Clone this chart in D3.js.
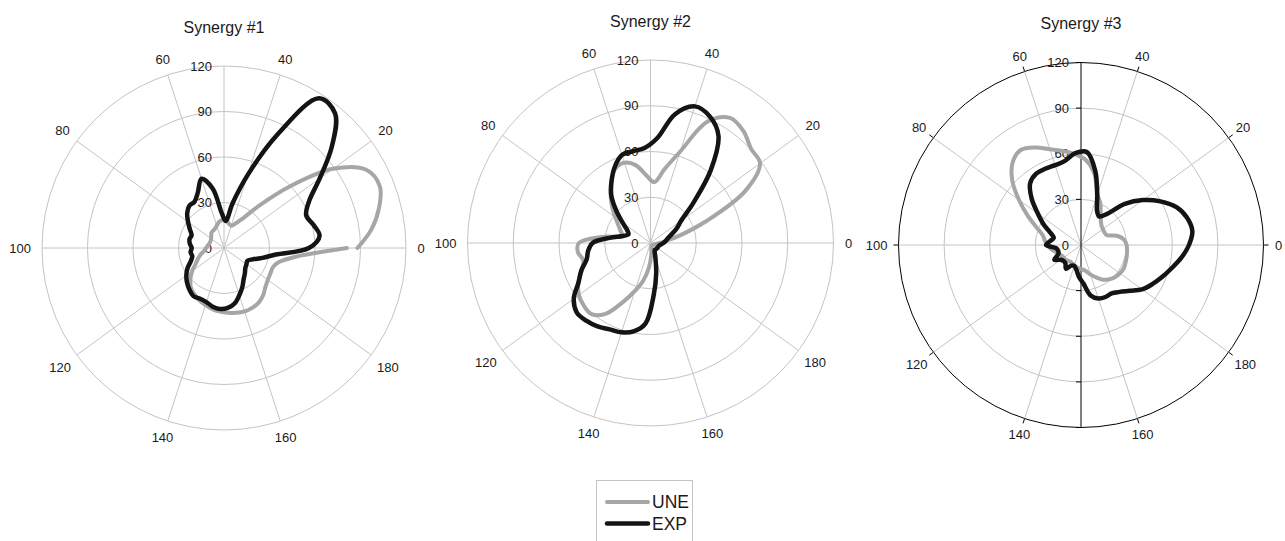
<!DOCTYPE html>
<html>
<head>
<meta charset="utf-8">
<script src="https://cdn.jsdelivr.net/npm/d3@7"></script>
<style>
  html, body { margin: 0; padding: 0; background: #fff; }
  svg { display: block; }
  text { font-family: "Liberation Sans", Arial, sans-serif; fill: #1a1a1a; }
</style>
</head>
<body>
<svg id="chart" width="1285" height="541"></svg>
<script>
// ---------------- data ----------------
const titles = ["Synergy #1", "Synergy #2", "Synergy #3"];
const seriesNames = ["UNE", "EXP"];
const angleTicks = [0, 20, 40, 60, 80, 100, 120, 140, 160, 180];
const radialTicks = [0, 30, 60, 90, 120];
const angles = [0,4,8,12,16,20,24,28,32,36,40,44,48,52,56,60,64,68,72,76,80,84,88,92,96,
  100,104,108,112,116,120,124,128,132,136,140,144,148,152,156,160,164,168,172,176,180,184,188,192,196,200];

const une1 = [88,98,105.5,110.5,107,88.8,59,36,23,17.8,15.5,16.5,18,18.5,17.5,15.5,14,13.5,13,11.5,10.5,10,10,10.2,10.8,
  11.8,13,15.5,18.3,21.2,26,30.4,34.2,36.3,38.2,39.5,41,42,42.8,43.5,43.9,43.6,42.7,40.5,37.5,35.7,34.9,34.6,37.4,47,81];
const exp1 = [56,63.5,61,58.3,64,78,97.5,115,117,82.5,50.7,29.9,17.9,23,40,48,40.5,36.2,36,33.3,29.3,25.7,23,23.5,22.7,
  21.3,22.2,21.6,23.5,27.4,30.7,33.4,35.7,37.6,37,37.5,39.4,40.3,39.6,37.3,32.7,28.4,24.2,21.6,19.3,18.3,17.6,20.3,26.2,34.5,56];

const une2 = [6,10,20,40,71,88.8,90.4,95.5,97.2,88,63.1,49.4,40,44.5,52,55.3,54,48,41,34.5,28.5,24,21,19.2,32,
  47,48,45.5,48.4,54,58,60,60.6,55,43,33,25,16,8,3,2,2,2,2,2,2,2,2.5,3,4,6];
const exp2 = [8.5,10,11.5,14.5,19.5,24.8,38.7,62,83.2,91.6,94.2,86,68.8,62.4,61.3,60.6,55.1,47.7,40.3,30.7,22.6,17.4,15.5,18.6,27,
  38,41.2,43.2,48.8,53.9,62.2,66.4,66.1,64.8,62.6,61.6,59,53,34,20,10.5,6.5,5.3,5.3,5.4,5.5,5.6,5.7,6,7,8.5];

const une3 = [30,28.5,24.4,18,17.5,17.8,18.5,20.5,24,30,35,47.4,55.7,59.7,62.9,66.2,70.9,74,70.5,62,50.4,40,31.5,26,24,
  22,20,17.5,16,14.5,14,14,13.5,13,13.5,14,15,15.5,16,17.5,20.5,23.5,27,29.2,30.8,31.6,32,31.5,31,30.5,30];
const exp3 = [71,73.8,72,67.5,59.6,50.3,39.5,26.4,22.3,24.8,34.5,49.8,61.3,60.5,56.3,55.2,55.4,55.3,52.5,44.5,35,28,21.5,18.5,20.5,
  23,16.5,15.5,16,20,16.5,15.5,16,18.5,15,14.5,16.5,21,25.4,33.8,37,37.8,37.6,40,44,49.6,53.5,57.3,61.5,66.5,71];

const uneSeries = [une1, une2, une3];
const expSeries = [exp1, exp2, exp3];

// ---------------- layout / style ----------------
const layout = [
  { cx: 224, cy: 248, R: 182, titleY: 27, framed: false },
  { cx: 650.5, cy: 243, R: 183, titleY: 21, framed: false },
  { cx: 1081, cy: 245, R: 182.5, titleY: 23, framed: true }
];
const gridColor = "#c4c4c4";
const uneColor = "#a6a6a6";
const expColor = "#141414";

const svg = d3.select("#chart");
svg.append("rect").attr("width", 1285).attr("height", 541).attr("fill", "#fff");

const angleScale = d3.scaleLinear().domain([0, 200]).range([0, 2 * Math.PI]);

function measure(txt, size) {
  const t = svg.append("text").attr("font-size", size).text(txt);
  const w = t.node().getComputedTextLength();
  t.remove();
  return w;
}

layout.forEach((L, i) => {
  const r = d3.scaleLinear().domain([0, 120]).range([0, L.R]);
  const g = svg.append("g").attr("transform", `translate(${L.cx},${L.cy})`);

  // title
  svg.append("text").attr("x", L.cx).attr("y", L.titleY)
    .attr("text-anchor", "middle").attr("dominant-baseline", "central")
    .attr("font-size", 16).text(titles[i]);

  // rings
  g.selectAll("circle.ring").data(radialTicks.slice(1)).join("circle")
    .attr("class", "ring")
    .attr("r", d => r(d))
    .attr("fill", "none")
    .attr("stroke", d => (L.framed && d === 120) ? "#000" : gridColor)
    .attr("stroke-width", 1);

  // spokes
  g.selectAll("line.spoke").data(angleTicks).join("line")
    .attr("class", "spoke")
    .attr("x1", 0).attr("y1", 0)
    .attr("x2", d => L.R * Math.cos(angleScale(d)))
    .attr("y2", d => -L.R * Math.sin(angleScale(d)))
    .attr("stroke", gridColor).attr("stroke-width", 1);

  // radial axis
  if (L.framed) {
    g.append("line").attr("x1", 0).attr("x2", 0).attr("y1", -L.R).attr("y2", L.R)
      .attr("stroke", "#000").attr("stroke-width", 1);
    radialTicks.slice(1).forEach(v => {
      [-1, 1].forEach(s => {
        g.append("line").attr("x1", -5).attr("x2", 0)
          .attr("y1", s * r(v)).attr("y2", s * r(v))
          .attr("stroke", "#000").attr("stroke-width", 1);
      });
    });
    g.selectAll("line.otick").data(angleTicks).join("line")
      .attr("class", "otick")
      .attr("x1", d => L.R * Math.cos(angleScale(d)))
      .attr("y1", d => -L.R * Math.sin(angleScale(d)))
      .attr("x2", d => (L.R + 5) * Math.cos(angleScale(d)))
      .attr("y2", d => -(L.R + 5) * Math.sin(angleScale(d)))
      .attr("stroke", "#000").attr("stroke-width", 1);
  } else {
    g.append("line").attr("x1", 0).attr("x2", 0).attr("y1", 0).attr("y2", -L.R)
      .attr("stroke", gridColor).attr("stroke-width", 1);
  }

  // angular labels
  angleTicks.forEach(d => {
    const a = angleScale(d);
    const w = measure(String(d), 13);
    const dist = L.R + 15 + Math.max(0, w / 2 - 4) * Math.abs(Math.cos(a));
    g.append("text")
      .attr("x", dist * Math.cos(a)).attr("y", -dist * Math.sin(a))
      .attr("text-anchor", "middle").attr("dominant-baseline", "central")
      .attr("font-size", 13).text(d);
  });

  // radial labels
  g.selectAll("text.rl").data(radialTicks).join("text")
    .attr("class", "rl")
    .attr("x", -12).attr("y", d => -r(d))
    .attr("text-anchor", "end").attr("dominant-baseline", "central")
    .attr("font-size", 13).text(d => d);

  // curves
  const drawSeries = (vals, color, width) => {
    const pts = angles.map((c, k) => [c, vals[k]]);
    const closed = vals[0] === vals[vals.length - 1];
    const line = d3.lineRadial()
      .angle(p => Math.PI / 2 - angleScale(p[0]))
      .radius(p => r(p[1]))
      .curve(closed ? d3.curveCatmullRomClosed.alpha(0.5) : d3.curveCatmullRom.alpha(0.5));
    g.append("path")
      .attr("d", line(closed ? pts.slice(0, -1) : pts))
      .attr("fill", "none").attr("stroke", color)
      .attr("stroke-width", width)
      .attr("stroke-linejoin", "round").attr("stroke-linecap", "round");
  };
  drawSeries(uneSeries[i], uneColor, 4);
  drawSeries(expSeries[i], expColor, 4.5);
});

// legend
const lg = svg.append("g");
lg.append("rect").attr("x", 596.5).attr("y", 480.5).attr("width", 96).attr("height", 80)
  .attr("fill", "#fff").attr("stroke", gridColor);
const legendColors = [uneColor, expColor];
seriesNames.forEach((n, k) => {
  const y = 502 + k * 21.5;
  lg.append("line").attr("x1", 607).attr("x2", 648).attr("y1", y).attr("y2", y)
    .attr("stroke", legendColors[k]).attr("stroke-width", k ? 4.5 : 4)
    .attr("stroke-linecap", "round");
  lg.append("text").attr("x", 652).attr("y", y)
    .attr("dominant-baseline", "central").attr("font-size", 17.5).text(n);
});
</script>
</body>
</html>
